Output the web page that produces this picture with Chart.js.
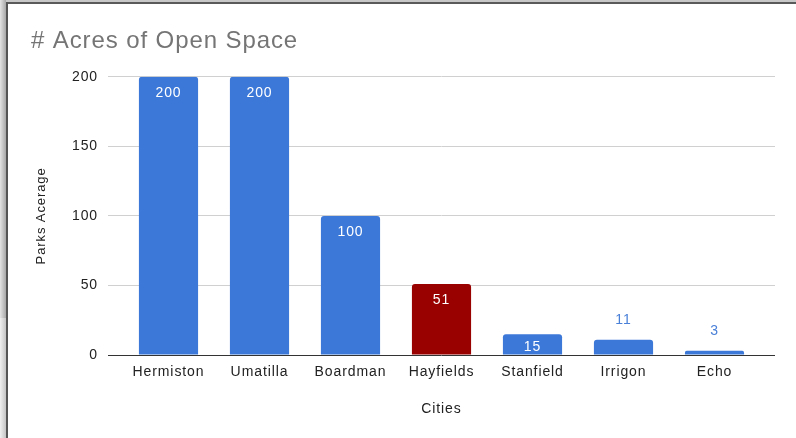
<!DOCTYPE html>
<html>
<head>
<meta charset="utf-8">
<script src="https://cdn.jsdelivr.net/npm/chart.js@4/dist/chart.umd.min.js"></script>
<style>
  html, body { margin: 0; padding: 0; background: #fff; }
  #wrap { position: absolute; left: 0; top: 0; width: 796px; height: 438px; overflow: hidden; }
  #c { position: absolute; left: 0; top: 0; }
  .topshade { position: absolute; left: 0; top: 0; width: 796px; height: 2px; background: #c8c8c8; }
  .topline { position: absolute; left: 6px; top: 2px; width: 790px; height: 2px; background: #5a5a5a; }
  .leftshade { position: absolute; left: 0; top: 0; width: 6px; height: 318px; background: linear-gradient(to right, #e4e4e4, #a8a8a8); }
  .leftshade2 { position: absolute; left: 0; top: 318px; width: 6px; height: 120px; background: linear-gradient(to right, #f0f0f0, #c4c4c4); }
  .leftline { position: absolute; left: 6px; top: 2px; width: 2px; height: 436px; background: #555; }
</style>
</head>
<body>
<div id="wrap">
  <canvas id="c" width="796" height="438"></canvas>
  <div class="topshade"></div>
  <div class="leftshade"></div>
  <div class="leftshade2"></div>
  <div class="topline"></div>
  <div class="leftline"></div>
</div>
<script>
const categories = ["Hermiston", "Umatilla", "Boardman", "Hayfields", "Stanfield", "Irrigon", "Echo"];
const acres = [200, 200, 100, 51, 15, 11, 3];
const barColors = ["#3c78d8", "#3c78d8", "#3c78d8", "#990000", "#3c78d8", "#3c78d8", "#3c78d8"];
const yTicks = [0, 50, 100, 150, 200];

const FONT = "'Liberation Sans', Arial, Helvetica, sans-serif";

const spacingPlugin = {
  id: 'spacing',
  beforeUpdate(chart) { chart.ctx.letterSpacing = '0.9px'; },
  beforeDraw(chart) { chart.ctx.letterSpacing = '0.9px'; }
};

const labelPlugin = {
  id: 'barLabels',
  afterDatasetsDraw(chart) {
    const ctx = chart.ctx;
    const meta = chart.getDatasetMeta(0);
    ctx.save();
    ctx.font = "14px " + FONT;
    ctx.textAlign = 'center';
    ctx.textBaseline = 'middle';
    meta.data.forEach((bar, i) => {
      const v = chart.data.datasets[0].data[i];
      const h = bar.base - bar.y;
      let y, color;
      if (h > 30) { y = bar.y + 16; color = '#ffffff'; }
      else if (h > 18) { y = bar.y + h / 2 + 3; color = '#ffffff'; }
      else { y = bar.y - 20; color = '#4a80d8'; }
      ctx.fillStyle = color;
      ctx.fillText(String(v), bar.x, y);
    });
    ctx.restore();
  }
};

new Chart(document.getElementById('c'), {
  type: 'bar',
  data: {
    labels: categories,
    datasets: [{
      data: acres,
      backgroundColor: barColors,
      borderRadius: { topLeft: 3, topRight: 3, bottomLeft: 0, bottomRight: 0 },
      borderSkipped: 'start',
      categoryPercentage: 1.0,
      barPercentage: 0.65
    }]
  },
  options: {
    responsive: false,
    animation: false,
    devicePixelRatio: 1,
    layout: { padding: { left: 31, right: 21, top: 10, bottom: 0 } },
    plugins: {
      legend: { display: false },
      tooltip: { enabled: false },
      title: {
        display: true,
        text: '# Acres of Open Space',
        align: 'start',
        color: '#757575',
        font: { family: FONT, size: 24, weight: 'normal' },
        padding: { top: 17, bottom: 21 }
      }
    },
    scales: {
      x: {
        grid: { display: false, drawTicks: false },
        border: { display: false },
        ticks: { color: '#222', font: { family: FONT, size: 14 }, padding: 9, maxRotation: 0 },
        title: { display: true, text: 'Cities', color: '#222', font: { family: FONT, size: 14 }, padding: { top: 0, bottom: 20 } },
        afterFit(scale) { scale.height = 83; }
      },
      y: {
        min: 0, max: 200,
        afterBuildTicks(scale) { scale.ticks = yTicks.map(v => ({ value: v })); },
        grid: {
          color: (c) => (c.tick && c.tick.value === 0) ? '#333333' : '#d0d0d0',
          lineWidth: 1,
          drawTicks: true,
          tickLength: 15
        },
        border: { display: false },
        ticks: { color: '#222', font: { family: FONT, size: 14 }, padding: 10 },
        title: { display: true, text: 'Parks Acerage', color: '#222', font: { family: FONT, size: 13 }, padding: { top: 3, bottom: 0 } },
        afterFit(scale) { scale.width = 92; }
      },
      y2: {
        position: 'right',
        min: 0, max: 200,
        afterBuildTicks(scale) { scale.ticks = yTicks.map(v => ({ value: v })); },
        grid: {
          drawOnChartArea: false,
          color: (c) => (c.tick && c.tick.value === 0) ? '#333333' : '#d0d0d0',
          drawTicks: true,
          tickLength: 15
        },
        border: { display: false },
        ticks: { display: false },
        afterFit(scale) { scale.width = 15; }
      }
    }
  },
  plugins: [spacingPlugin, labelPlugin]
});
</script>
</body>
</html>
